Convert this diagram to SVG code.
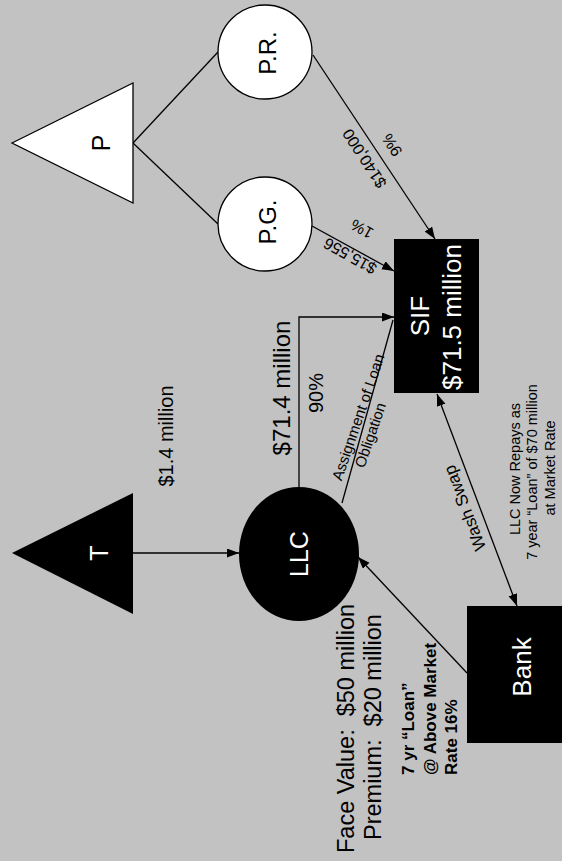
<svg xmlns="http://www.w3.org/2000/svg" width="562" height="861" viewBox="0 0 562 861">
<style>
text{font-family:"Liberation Sans",Arial,sans-serif;fill:#000}
.c{text-anchor:middle;dominant-baseline:central}
.w{fill:#fff}
.ln{stroke:#000;stroke-width:1.3;fill:none}
.b{font-weight:bold}
</style>
<defs>
<marker id="ah" markerUnits="userSpaceOnUse" markerWidth="13" markerHeight="10" refX="12" refY="4.5" orient="auto-start-reverse">
<path d="M0,0 L12,4.5 L0,9 z" fill="#000"/>
</marker>
</defs>
<rect width="562" height="861" fill="#c2c2c2"/>
<g id="connectors">
<line class="ln" x1="133" y1="143" x2="218" y2="52"/>
<line class="ln" x1="133" y1="143" x2="218" y2="224"/>
<line class="ln" x1="313" y1="55" x2="435" y2="239" marker-end="url(#ah)"/>
<line class="ln" x1="312" y1="226" x2="394" y2="271" marker-end="url(#ah)"/>
<line class="ln" x1="133" y1="553" x2="239" y2="553" marker-end="url(#ah)"/>
<path class="ln" d="M299,487 V317 H394" marker-end="url(#ah)"/>
<line class="ln" x1="342" y1="503" x2="393" y2="320"/>
<line class="ln" x1="437" y1="394" x2="517" y2="606" marker-start="url(#ah)" marker-end="url(#ah)"/>
<line class="ln" x1="467" y1="673" x2="358" y2="557" marker-end="url(#ah)"/>
<text class="c" font-size="16" transform="translate(364.5,158.5) rotate(236.9)">$140,000</text>
<text class="c" font-size="16" transform="translate(392,145) rotate(236.9)">9%</text>
<text class="c" font-size="16" transform="translate(350,256) rotate(209.3)">$15,556</text>
<text class="c" font-size="16" transform="translate(362,229) rotate(209.3)">1%</text>
<text class="c" font-size="20" transform="translate(166,436) rotate(-90)">$1.4 million</text>
<text class="c" font-size="24" transform="translate(281,388) rotate(-90)">$71.4 million</text>
<text class="c" font-size="20" transform="translate(316,393) rotate(-90)">90%</text>
<text class="c" font-size="15" transform="translate(358,417) rotate(-71)">Assignment of Loan</text>
<text class="c" font-size="15" transform="translate(370,435) rotate(-71)">Obligation</text>
<text class="c" font-size="17" transform="translate(465,508) rotate(-110.9)">Wash Swap</text>
</g>
<g id="P">
<polygon points="12,143 133,83 133,203" fill="#fff" stroke="#000" stroke-width="1.3"/>
<text class="c" font-size="25" transform="translate(101,143) rotate(-90)">P</text>
</g>
<g id="PR">
<circle cx="265" cy="52" r="47" fill="#fff" stroke="#000" stroke-width="1.3"/>
<text class="c" font-size="24" transform="translate(267,53) rotate(-90)">P.R.</text>
</g>
<g id="PG">
<circle cx="265" cy="224" r="47" fill="#fff" stroke="#000" stroke-width="1.3"/>
<text class="c" font-size="24" transform="translate(267,222) rotate(-90)">P.G.</text>
</g>
<g id="T">
<polygon points="12,553 133,493 133,614" fill="#000"/>
<text class="c w" font-size="25" transform="translate(99,553) rotate(-90)">T</text>
</g>
<g id="LLC">
<ellipse cx="299" cy="554" rx="60" ry="67" fill="#000"/>
<text class="c w" font-size="25" transform="translate(299,554) rotate(-90)">LLC</text>
</g>
<g id="SIF">
<rect x="394" y="239" width="85" height="154" fill="#000"/>
<text class="c w" font-size="26" transform="translate(419.5,316) rotate(-90)">SIF</text>
<text class="c w" font-size="26" transform="translate(452,317) rotate(-90)">$71.5 million</text>
</g>
<g id="Bank">
<rect x="467" y="606" width="95" height="137" fill="#000"/>
<text class="c w" font-size="26" transform="translate(522,667) rotate(-90)">Bank</text>
</g>
<g id="notes">
<text font-size="23.5" transform="translate(354,853) rotate(-90)" xml:space="preserve">Face Value:  $50 million</text>
<text font-size="23.5" transform="translate(381,840) rotate(-90)" xml:space="preserve">Premium:  $20 million</text>
<text class="b" font-size="17" transform="translate(414,775) rotate(-90)">7 yr “Loan”</text>
<text class="b" font-size="17" transform="translate(436,775) rotate(-90)">@ Above Market</text>
<text class="b" font-size="17" transform="translate(457,775) rotate(-90)">Rate 16%</text>
<text font-size="14.5" text-anchor="middle" transform="translate(519.5,469) rotate(-90)">LLC Now Repays as</text>
<text font-size="14.5" text-anchor="middle" transform="translate(537,472) rotate(-90)">7 year “Loan” of $70 million</text>
<text font-size="14.5" text-anchor="middle" transform="translate(554.5,468) rotate(-90)">at Market Rate</text>
</g>
</svg>
